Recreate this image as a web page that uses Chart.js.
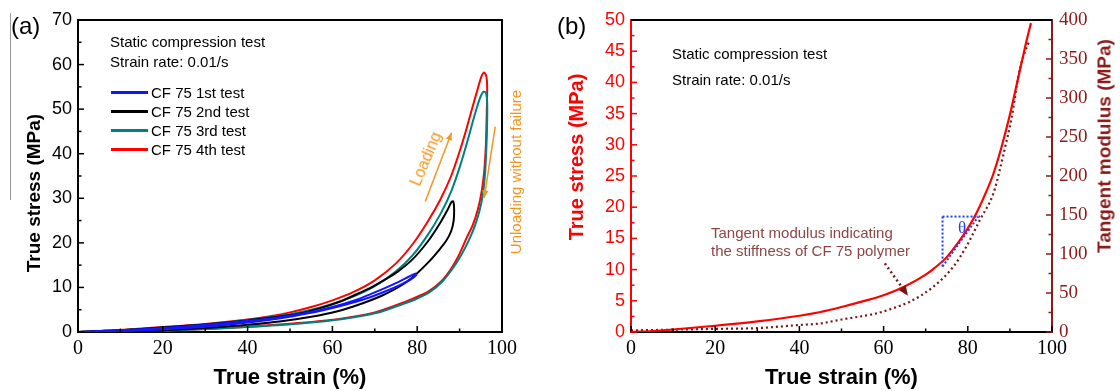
<!DOCTYPE html>
<html>
<head>
<meta charset="utf-8">
<script src="https://cdn.jsdelivr.net/npm/chart.js@4.4.0/dist/chart.umd.min.js"></script>
<style>
body { margin: 0; background: #fff; width: 1120px; height: 391px; overflow: hidden; position: relative; font-family: 'Liberation Sans', Arial, sans-serif; }
canvas { position: absolute; top: 0; }
#chartA { left: 0; }
#chartB { left: 560px; }
.t { position: absolute; white-space: nowrap; line-height: 1; color: #000; }
.ytitle { position: absolute; white-space: nowrap; line-height: 1; font-weight: bold; transform: translate(-50%, -50%) rotate(-90deg); }
#legend .row { position: absolute; left: 0; height: 19px; display: flex; align-items: center; font-size: 15px; white-space: nowrap; }
#legend .sw { width: 37px; height: 2.5px; margin-right: 3px; flex: none; }
</style>
</head>
<body>
<canvas id="chartA" width="560" height="391" style="width:560px;height:391px"></canvas>
<canvas id="chartB" width="560" height="391" style="width:560px;height:391px"></canvas>

<div style="position:absolute;left:10px;top:13px;width:1px;height:187px;background:#999"></div>
<div class="t" style="left:11px;top:14px;font-size:24px">(a)</div>
<div class="t" style="left:557px;top:14px;font-size:24px">(b)</div>

<div class="ytitle" style="left:33px;top:193px;font-size:19px;color:#000">True stress (MPa)</div>
<div class="ytitle" style="left:576px;top:157px;font-size:20px;color:#ff0000">True stress (MPa)</div>
<div class="ytitle" style="left:1104px;top:146px;font-size:19px;color:#8b1a1a">Tangent modulus (MPa)</div>

<div class="t" style="left:110px;top:34px;font-size:15px">Static compression test</div>
<div class="t" style="left:110px;top:54px;font-size:15px">Strain rate: 0.01/s</div>
<div id="legend" style="position:absolute;left:111px;top:83px"></div>

<div class="t" style="left:426px;top:159px;font-size:16px;color:#f7941d;transform:translate(-50%,-50%) rotate(-67deg)">Loading</div>
<div class="t" style="left:515px;top:172px;font-size:15px;color:#f7941d;transform:translate(-50%,-50%) rotate(-90deg)">Unloading without failure</div>

<div class="t" style="left:672px;top:46px;font-size:15px">Static compression test</div>
<div class="t" style="left:672px;top:72px;font-size:15px">Strain rate: 0.01/s</div>
<div class="t" style="left:711px;top:224px;font-size:15px;line-height:18px;color:#8c4646">Tangent modulus indicating<br>the stiffness of CF 75 polymer</div>
<div class="t" style="left:962px;top:227px;font-size:17px;color:#1f3fff;font-family:'Liberation Serif',serif;transform:translate(-50%,-50%)">θ</div>

<script>
// (a) cyclic compression loops, strain in %, stress in MPa
var test1Strain = [0, 5, 10, 20, 30, 40, 47.5, 55, 60, 65, 69, 72.5, 75.5, 78, 79.5, 79.8, 78.5, 76.5, 73, 68, 63, 57, 51, 45, 38, 30, 22, 14, 7];
var test1Stress = [0, 0.2, 0.4, 0.9, 1.6, 2.5, 3.3, 4.5, 5.6, 7, 8.5, 9.9, 11.2, 12.4, 13.1, 12.8, 11.8, 10.8, 9.3, 7.5, 6.1, 4.7, 3.6, 2.7, 1.9, 1.2, 0.7, 0.3, 0.05];

var test2Strain = [0, 5, 10, 20, 30, 40, 45, 51.4, 57, 62, 66, 69.5, 72.5, 75.5, 79, 82.5, 85.3, 87.2, 88.1, 88.5, 88.7, 88.6, 88, 86.8, 85, 83, 80, 76.5, 72, 67, 61, 55, 48, 40, 32, 24, 15, 7];
var test2Stress = [0, 0.2, 0.4, 1.0, 1.7, 2.6, 3.2, 4.0, 5.3, 6.9, 8.6, 10.2, 11.8, 13.6, 16.4, 20.3, 24.3, 27.5, 29.2, 29.3, 27.8, 25, 22.6, 20.4, 18.2, 16.0, 13.2, 10.6, 8.3, 6.4, 4.6, 3.4, 2.4, 1.6, 1.0, 0.55, 0.2, 0];

var test3Strain = [0, 5, 10, 20, 30, 40, 45, 50, 55, 60, 65, 70, 75, 79, 82.5, 85.5, 88, 90.2, 92, 93.5, 94.7, 95.6, 96.2, 96.5, 96.5, 96.3, 96.0, 95.5, 94.7, 93.6, 92.2, 90.4, 88.4, 86, 83, 79.5, 75.5, 70.5, 62.5, 52.5, 42.5, 32.5, 22.5, 12.5, 5];
var test3Stress = [0, 0.2, 0.4, 1.0, 1.7, 2.7, 3.3, 4.0, 5.0, 6.3, 8.0, 10.3, 13.6, 17.3, 21.8, 26.5, 31.5, 37.5, 43.3, 48.5, 52.2, 53.9, 53.7, 51.5, 47, 41, 35.5, 31, 27.2, 23.8, 20.6, 17.3, 14.3, 11.4, 9.0, 7.3, 5.9, 4.3, 2.9, 1.9, 1.25, 0.75, 0.35, 0.1, 0];

var test4Strain = [0, 5, 10, 20, 30, 40, 45, 50, 55, 60, 65, 70, 75, 79, 82.5, 85.5, 88, 90, 91.6, 93, 94.2, 95.1, 95.8, 96.3, 96.5, 96.4, 96.2, 95.8, 95.2, 94.3, 93.1, 91.6, 89.8, 88, 85.5, 82.5, 79, 75, 70, 62, 52, 42, 32, 22, 12, 4];
var test4Stress = [0, 0.2, 0.45, 1.1, 1.8, 2.8, 3.5, 4.4, 5.6, 7.1, 9.0, 11.6, 15.4, 19.8, 24.8, 29.8, 35, 40.5, 45.5, 50.3, 54.3, 57.2, 58.2, 57.4, 55, 49, 42, 36, 31.5, 27.5, 24, 21, 17.2, 14.2, 11.2, 9.0, 7.5, 6.0, 4.4, 3.0, 2.0, 1.3, 0.8, 0.4, 0.15, 0];

var testLabels = ['CF 75 1st test', 'CF 75 2nd test', 'CF 75 3rd test', 'CF 75 4th test'];
var testColors = ['#1414ff', '#000000', '#008080', '#ff0000'];

// (b) stress curve and tangent modulus
var curveStrain = [0, 5, 10, 20, 30, 40, 45, 50, 55, 60, 65, 70, 72, 75, 78, 80, 82, 84, 86, 88, 90, 92, 94, 95];
var curveStress = [0, 0.15, 0.4, 1.0, 1.7, 2.6, 3.2, 4.0, 4.9, 5.9, 7.3, 9.2, 10.2, 12.0, 14.6, 16.6, 19.0, 21.9, 25.2, 29.6, 34.8, 40.8, 46.8, 49.5];
var modulusStrain = [0, 10, 20, 30, 40, 45, 50, 58.4, 62, 66.3, 71.8, 76.6, 79.7, 82.9, 86.1, 87.6, 89, 90.4, 92, 93, 94.5];
var modulusValues = [2, 3, 4, 5, 9, 11, 16, 24, 30, 39, 58, 84, 110, 144, 178, 208, 240, 274, 328, 350, 372];

var strainTicks = [0, 20, 40, 60, 80, 100];
var stressTicksA = [0, 10, 20, 30, 40, 50, 60, 70];
var stressTicksB = [0, 5, 10, 15, 20, 25, 30, 35, 40, 45, 50];
var modulusTicks = [0, 50, 100, 150, 200, 250, 300, 350, 400];

function pts(xs, ys) {
    return xs.map(function(x, i) { return {x: x, y: ys[i]}; });
}
function setTicks(list) {
    return function(s) { s.ticks = list.map(function(v) { return {value: v}; }); };
}

// inward major/minor ticks, frame lines and arrows
var decor = {
    id: 'decor',
    afterDraw: function(chart, args, opts) {
        var ctx = chart.ctx, a = chart.chartArea;
        ctx.save();
        ctx.lineWidth = 1.5;
        (opts.axes || []).forEach(function(ax) {
            var s = chart.scales[ax.id];
            ctx.strokeStyle = ax.color;
            for (var v = s.min; v <= s.max + 1e-9; v += ax.minor) {
                var r = v / ax.major;
                var len = Math.abs(r - Math.round(r)) < 1e-6 ? 6 : 3.5;
                var p = s.getPixelForValue(v);
                ctx.beginPath();
                if (ax.side === 'bottom') { ctx.moveTo(p, a.bottom); ctx.lineTo(p, a.bottom - len); }
                else if (ax.side === 'left') { ctx.moveTo(a.left, p); ctx.lineTo(a.left + len, p); }
                else { ctx.moveTo(a.right, p); ctx.lineTo(a.right - len, p); }
                ctx.stroke();
            }
        });
        ctx.strokeStyle = '#000';
        ctx.lineWidth = 2;
        ctx.beginPath();
        ctx.moveTo(a.left, a.top); ctx.lineTo(a.right, a.top);
        if (opts.boxRight) ctx.lineTo(a.right, a.bottom);
        ctx.stroke();

        (opts.arrows || []).forEach(function(ar) {
            var xs = chart.scales.x, ys = chart.scales[ar.axis || 'y'];
            var x1 = xs.getPixelForValue(ar.from[0]), y1 = ys.getPixelForValue(ar.from[1]);
            var x2 = xs.getPixelForValue(ar.to[0]), y2 = ys.getPixelForValue(ar.to[1]);
            ctx.strokeStyle = ar.color; ctx.fillStyle = ar.color;
            ctx.lineWidth = ar.width || 1.5;
            ctx.setLineDash(ar.dash || []);
            ctx.beginPath(); ctx.moveTo(x1, y1); ctx.lineTo(x2, y2); ctx.stroke();
            ctx.setLineDash([]);
            if (ar.head) {
                var ang = Math.atan2(y2 - y1, x2 - x1), h = ar.head;
                ctx.beginPath();
                ctx.moveTo(x2, y2);
                ctx.lineTo(x2 - h * Math.cos(ang - 0.4), y2 - h * Math.sin(ang - 0.4));
                ctx.lineTo(x2 - h * Math.cos(ang + 0.4), y2 - h * Math.sin(ang + 0.4));
                ctx.closePath(); ctx.fill();
            }
        });
        ctx.restore();
    }
};

var tickFontSans = {family: 'Liberation Sans', size: 18};
var tickFontSerif = {family: 'Liberation Serif', size: 20};
var xTitle = {display: true, text: 'True strain (%)', color: '#000', font: {family: 'Liberation Sans', size: 22, weight: 'bold'}, padding: {top: 0, bottom: 0}};

var datasetsA = [
    [test1Strain, test1Stress], [test2Strain, test2Stress],
    [test3Strain, test3Stress], [test4Strain, test4Stress]
].map(function(d, i) {
    return {label: testLabels[i], data: pts(d[0], d[1]), borderColor: testColors[i], showLine: true, tension: 0.25};
});

new Chart(document.getElementById('chartA'), {
    type: 'scatter',
    data: {datasets: datasetsA},
    options: {
        responsive: false, animation: false,
        layout: {padding: {top: 20, right: 58, left: 0, bottom: 0}},
        elements: {point: {radius: 0}, line: {borderWidth: 2}},
        plugins: {
            legend: {display: false}, tooltip: {enabled: false},
            decor: {
                boxRight: true,
                axes: [
                    {id: 'x', side: 'bottom', major: 20, minor: 10, color: '#000'},
                    {id: 'y', side: 'left', major: 10, minor: 5, color: '#000'}
                ],
                arrows: [
                    {from: [81.9, 29.3], to: [88.1, 44.7], color: '#f7941d', head: 8},
                    {from: [98.4, 46.1], to: [95.8, 30.1], color: '#f7941d', head: 8}
                ]
            }
        },
        scales: {
            x: {
                type: 'linear', min: 0, max: 100,
                afterBuildTicks: setTicks(strainTicks),
                afterFit: function(s) { s.height = 59; },
                ticks: {color: '#000', font: tickFontSerif, padding: 5, maxRotation: 0, autoSkip: false},
                grid: {drawOnChartArea: false, drawTicks: false},
                border: {color: '#000', width: 2},
                title: xTitle
            },
            y: {
                min: 0, max: 70,
                afterBuildTicks: setTicks(stressTicksA),
                afterFit: function(s) { s.width = 78; },
                ticks: {color: '#000', font: tickFontSans, padding: 6, autoSkip: false},
                grid: {drawOnChartArea: false, drawTicks: false},
                border: {color: '#000', width: 2}
            }
        }
    },
    plugins: [decor]
});

// legend for (a)
var legend = document.getElementById('legend');
testLabels.forEach(function(lab, i) {
    var row = document.createElement('div');
    row.className = 'row';
    row.style.top = (i * 19) + 'px';
    row.innerHTML = '<span class="sw" style="background:' + testColors[i] + '"></span>' + lab;
    legend.appendChild(row);
});

new Chart(document.getElementById('chartB'), {
    type: 'scatter',
    data: {
        datasets: [
            {label: 'True stress', data: pts(curveStrain, curveStress), borderColor: '#ff0000', borderWidth: 2.2, showLine: true, cubicInterpolationMode: 'monotone', yAxisID: 'y'},
            {label: 'Tangent modulus', data: pts(modulusStrain, modulusValues), borderColor: '#7a1515', borderWidth: 2.2, borderDash: [2, 3], showLine: true, cubicInterpolationMode: 'monotone', yAxisID: 'y2'}
        ]
    },
    options: {
        responsive: false, animation: false,
        layout: {padding: {top: 20, right: 0, left: 0, bottom: 0}},
        elements: {point: {radius: 0}},
        plugins: {
            legend: {display: false}, tooltip: {enabled: false},
            decor: {
                axes: [
                    {id: 'x', side: 'bottom', major: 20, minor: 10, color: '#000'},
                    {id: 'y', side: 'left', major: 5, minor: 2.5, color: '#ff0000'},
                    {id: 'y2', side: 'right', major: 50, minor: 25, color: '#8b1a1a'}
                ],
                arrows: [
                    {from: [60.3, 11.0], to: [65.8, 5.8], color: '#6e1a1a', width: 2.5, dash: [2, 3], head: 11},
                    {from: [74.0, 18.5], to: [74.0, 10.5], color: '#1f3fff', width: 2, dash: [2, 2]},
                    {from: [74.0, 18.5], to: [82.9, 18.5], color: '#1f3fff', width: 2, dash: [2, 2]},
                    {from: [74.0, 10.5], to: [82.5, 18.5], color: '#1f3fff', width: 2, dash: [2, 2]}
                ]
            }
        },
        scales: {
            x: {
                type: 'linear', min: 0, max: 100,
                afterBuildTicks: setTicks(strainTicks),
                afterFit: function(s) { s.height = 59; },
                ticks: {color: '#000', font: tickFontSerif, padding: 5, maxRotation: 0, autoSkip: false},
                grid: {drawOnChartArea: false, drawTicks: false},
                border: {color: '#000', width: 2},
                title: xTitle
            },
            y: {
                position: 'left', min: 0, max: 50,
                afterBuildTicks: setTicks(stressTicksB),
                afterFit: function(s) { s.width = 71; },
                ticks: {color: '#ff0000', font: tickFontSans, padding: 6, autoSkip: false},
                grid: {drawOnChartArea: false, drawTicks: false},
                border: {color: '#ff0000', width: 2}
            },
            y2: {
                position: 'right', min: 0, max: 400,
                afterBuildTicks: setTicks(modulusTicks),
                afterFit: function(s) { s.width = 68; },
                ticks: {color: '#8b1a1a', font: {family: 'Liberation Serif', size: 19}, padding: 7, autoSkip: false},
                grid: {drawOnChartArea: false, drawTicks: false},
                border: {color: '#8b1a1a', width: 2}
            }
        }
    },
    plugins: [decor]
});
</script>
</body>
</html>
